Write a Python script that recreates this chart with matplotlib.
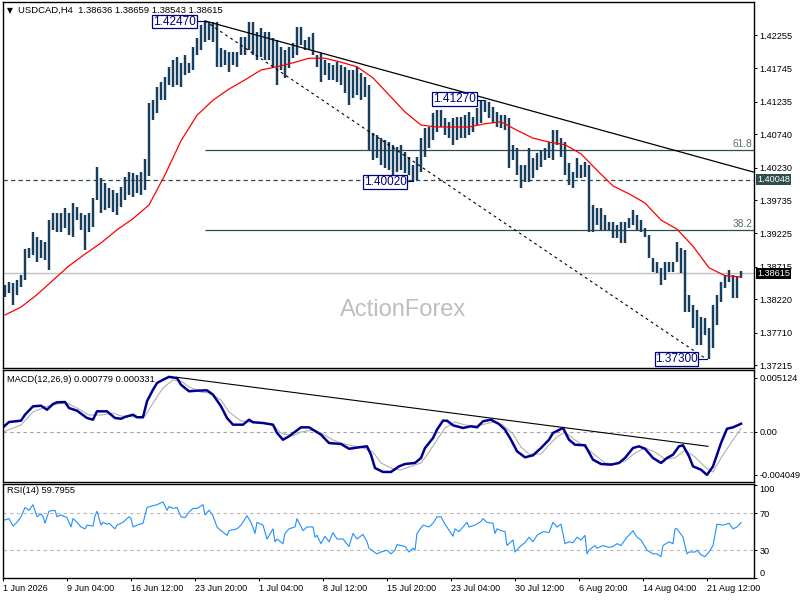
import matplotlib
matplotlib.use('Agg')
import matplotlib.pyplot as plt
import numpy as np

plt.rcParams['font.family'] = ['Liberation Sans', 'DejaVu Sans']

# USDCAD H4, high / low of every second bar
high = [
    1.3844, 1.3848, 1.3847, 1.3851, 1.3859, 1.3899, 1.3900, 1.3925, 1.3917, 1.3913,
    1.3909, 1.3943, 1.3954, 1.3954, 1.3954, 1.3961, 1.3954, 1.3969, 1.3963, 1.3954,
    1.3951, 1.3954, 1.3977, 1.4024, 1.4007, 1.4000, 1.3992, 1.3989, 1.3984, 1.3993,
    1.4009, 1.4016, 1.4015, 1.4012, 1.4016, 1.4036, 1.4122, 1.4126, 1.4146, 1.4154,
    1.4161, 1.4177, 1.4187, 1.4192, 1.4183, 1.4195, 1.4183, 1.4207, 1.4221, 1.4241,
    1.4247, 1.4245, 1.4246, 1.4246, 1.4206, 1.4203, 1.4200, 1.4200, 1.4200, 1.4222,
    1.4222, 1.4246, 1.4245, 1.4230, 1.4236, 1.4230, 1.4230, 1.4221, 1.4218, 1.4207,
    1.4203, 1.4207, 1.4213, 1.4238, 1.4238, 1.4218, 1.4222, 1.4229, 1.4195, 1.4198,
    1.4187, 1.4183, 1.4180, 1.4184, 1.4180, 1.4177, 1.4172, 1.4172, 1.4177, 1.4168,
    1.4161, 1.4149, 1.4076, 1.4073, 1.4068, 1.4065, 1.4062, 1.4058, 1.4055, 1.4058,
    1.4047, 1.4039, 1.4027, 1.4039, 1.4068, 1.4084, 1.4085, 1.4106, 1.4111, 1.4111,
    1.4099, 1.4093, 1.4099, 1.4100, 1.4100, 1.4103, 1.4108, 1.4100, 1.4114, 1.4126,
    1.4127, 1.4123, 1.4116, 1.4108, 1.4103, 1.4103, 1.4099, 1.4058, 1.4053, 1.4027,
    1.4027, 1.4053, 1.4038, 1.4045, 1.4050, 1.4053, 1.4062, 1.4080, 1.4080, 1.4068,
    1.4062, 1.4030, 1.4016, 1.4038, 1.4027, 1.4032, 1.4027, 1.3966, 1.3961, 1.3961,
    1.3951, 1.3940, 1.3940, 1.3935, 1.3940, 1.3940, 1.3946, 1.3958, 1.3951, 1.3943,
    1.3931, 1.3920, 1.3885, 1.3879, 1.3870, 1.3879, 1.3879, 1.3879, 1.3909, 1.3900,
    1.3897, 1.3829, 1.3813, 1.3806, 1.3795, 1.3793, 1.3778, 1.3813, 1.3829, 1.3848,
    1.3859, 1.3867, 1.3859, 1.3856, 1.38659]
low = [
    1.3826, 1.3832, 1.3813, 1.3829, 1.3841, 1.3851, 1.3885, 1.3890, 1.3879, 1.3885,
    1.3882, 1.3867, 1.3928, 1.3925, 1.3925, 1.3931, 1.3920, 1.3917, 1.3943, 1.3928,
    1.3897, 1.3925, 1.3932, 1.3974, 1.3954, 1.3958, 1.3961, 1.3955, 1.3951, 1.3963,
    1.3974, 1.3981, 1.3978, 1.3984, 1.3981, 1.3989, 1.4010, 1.4096, 1.4106, 1.4126,
    1.4126, 1.4149, 1.4146, 1.4149, 1.4146, 1.4164, 1.4168, 1.4172, 1.4195, 1.4203,
    1.4215, 1.4218, 1.4215, 1.4177, 1.4177, 1.4180, 1.4169, 1.4180, 1.4177, 1.4195,
    1.4195, 1.4203, 1.4195, 1.4187, 1.4192, 1.4187, 1.4187, 1.4175, 1.4149, 1.4172,
    1.4160, 1.4175, 1.4190, 1.4195, 1.4210, 1.4203, 1.4203, 1.4195, 1.4177, 1.4154,
    1.4164, 1.4157, 1.4157, 1.4154, 1.4149, 1.4137, 1.4119, 1.4129, 1.4134, 1.4126,
    1.4131, 1.4050, 1.4035, 1.4038, 1.4027, 1.4022, 1.4019, 1.4012, 1.4016, 1.4019,
    1.4015, 1.4012, 1.4002, 1.4004, 1.4016, 1.4039, 1.4053, 1.4065, 1.4077, 1.4085,
    1.4073, 1.4068, 1.4058, 1.4065, 1.4068, 1.4068, 1.4073, 1.4077, 1.4088, 1.4091,
    1.4108, 1.4099, 1.4091, 1.4085, 1.4084, 1.4080, 1.4022, 1.4035, 1.4012, 1.3992,
    1.4001, 1.4001, 1.4007, 1.4019, 1.4024, 1.4035, 1.4038, 1.4035, 1.4058, 1.4039,
    1.4012, 1.3996, 1.3992, 1.4007, 1.4007, 1.4009, 1.3925, 1.3925, 1.3935, 1.3928,
    1.3928, 1.3928, 1.3916, 1.3916, 1.3908, 1.3908, 1.3931, 1.3935, 1.3928, 1.3925,
    1.3917, 1.3885, 1.3864, 1.3862, 1.3844, 1.3851, 1.3864, 1.3864, 1.3879, 1.3862,
    1.3803, 1.3803, 1.3778, 1.3752, 1.3752, 1.3767, 1.3730, 1.3748, 1.3783, 1.3818,
    1.3839, 1.3848, 1.3824, 1.3824, 1.38543]

# red moving average, one value every 8 bars
ma_val = [1.3798, 1.3810, 1.3829, 1.3851, 1.3873, 1.3891, 1.3908, 1.3928, 1.3945, 1.3966,
          1.4012, 1.4064, 1.4103, 1.4126, 1.4143, 1.4157, 1.4172, 1.4177, 1.4183, 1.4190,
          1.4190, 1.4184, 1.4177, 1.4160, 1.4134, 1.4108, 1.4088, 1.4085, 1.4085, 1.4085,
          1.4090, 1.4093, 1.4080, 1.4068, 1.4062, 1.4058, 1.4044, 1.4019, 1.3995, 1.3983,
          1.3969, 1.3943, 1.3929, 1.3903, 1.3870, 1.3858, 1.3856]

macd_bar = [-1, 2, 8, 10, 14, 18, 21, 24, 26, 30, 32, 36, 41, 44, 46, 51, 55, 58, 60, 64,
            66, 69, 71, 74, 76, 79, 82, 86, 88, 92, 96, 101, 104, 108, 111, 114, 119, 122, 124, 129,
            134, 136, 139, 142, 148, 152, 158, 162, 168, 172, 178, 181, 183, 185, 189, 193, 197, 200, 205, 208,
            210, 214, 216, 219, 221, 224, 229, 233, 236, 239, 243, 247, 250, 253, 256, 260, 264, 268, 272, 274,
            279, 282, 285, 290, 294, 298, 303, 307, 310, 314, 317, 320, 324, 328, 331, 334, 337, 339, 342, 344,
            348, 351, 354, 358, 361, 364, 367, 368]
macd_val = [0.00044, 0.00094, 0.00107, 0.00163, 0.00242, 0.00248, 0.00210, 0.00264, 0.00280, 0.00283,
            0.00226, 0.00201, 0.00132, 0.00116, 0.00195, 0.00195, 0.00132, 0.00125, 0.00142, 0.00163,
            0.00139, 0.00139, 0.00290, 0.00399, 0.00462, 0.00493, 0.00520, 0.00509, 0.00446, 0.00384,
            0.00390, 0.00393, 0.00352, 0.00242, 0.00132, 0.00069, 0.00069, 0.00116, 0.00092, 0.00085,
            0.00069, -0.00009, -0.00073, -0.00041, 0.00044, 0.00044, -0.00025, -0.00104, -0.00113, -0.00158,
            -0.00142, -0.00135, -0.00214, -0.00340, -0.00377, -0.00377, -0.00324, -0.00302, -0.00292, -0.00245,
            -0.00151, -0.00057, 0.00022, 0.00107, 0.00107, 0.00063, 0.00038, 0.00054, 0.00044, 0.00101,
            0.00116, 0.00075, 0.00022, -0.00073, -0.00182, -0.00239, -0.00220, -0.00151, -0.00073, -0.00009,
            0.00038, -0.00073, -0.00120, -0.00125, -0.00261, -0.00302, -0.00308, -0.00292, -0.00245, -0.00151,
            -0.00135, -0.00158, -0.00245, -0.00292, -0.00245, -0.00214, -0.00135, -0.00125, -0.00229, -0.00324,
            -0.00356, -0.00405, -0.00324, -0.00104, 0.00031, 0.00044, 0.00069, 0.00078]

sig_bar = [-1, 8, 14, 20, 26, 31, 36, 42, 48, 54, 58, 65, 70, 75, 79, 84, 88, 92, 98, 102,
           108, 112, 118, 122, 128, 134, 138, 144, 148, 154, 158, 164, 168, 174, 178, 184, 188, 194, 198, 202,
           208, 212, 216, 220, 225, 230, 235, 240, 244, 249, 254, 258, 262, 268, 272, 276, 280, 285, 290, 295,
           300, 305, 310, 315, 320, 325, 330, 335, 340, 345, 350, 354, 358, 364, 368]
sig_val = [0.0, 0.00066, 0.00189, 0.00236, 0.00264, 0.00274, 0.00226, 0.00160, 0.00160, 0.00179,
           0.00151, 0.00142, 0.00151, 0.00302, 0.00415, 0.00491, 0.00481, 0.00425, 0.00377, 0.00368,
           0.00302, 0.00189, 0.00104, 0.00094, 0.00085, 0.00066, -0.00009, -0.00038, 0.0, 0.00019,
           -0.00009, -0.00075, -0.00104, -0.00132, -0.00142, -0.00189, -0.00292, -0.00349, -0.00358, -0.00330,
           -0.00292, -0.00189, -0.00075, 0.00038, 0.00094, 0.00066, 0.00057, 0.00075, 0.00094, 0.00066,
           -0.00019, -0.00142, -0.00208, -0.00208, -0.00123, -0.00047, 0.0, -0.00075, -0.00142, -0.00217,
           -0.00292, -0.00302, -0.00274, -0.00198, -0.00151, -0.00189, -0.00255, -0.00245, -0.00170, -0.00236,
           -0.00330, -0.00377, -0.00245, -0.00075, 0.00033]

rsi_bar = [-1, 2, 4, 6, 8, 10, 12, 14, 16, 18, 19, 20, 22, 25, 26, 28, 31, 33, 34, 36,
           38, 40, 41, 44, 45, 46, 48, 49, 51, 52, 55, 56, 59, 62, 63, 64, 66, 69, 71, 74,
           76, 79, 81, 82, 84, 86, 88, 90, 92, 94, 96, 99, 100, 102, 104, 106, 108, 111, 112, 116,
           118, 121, 123, 125, 126, 129, 131, 134, 135, 136, 139, 140, 142, 145, 146, 149, 151, 154, 155, 156,
           158, 160, 162, 164, 166, 169, 172, 174, 176, 179, 181, 182, 186, 188, 191, 193, 195, 196, 198, 200,
           202, 204, 205, 206, 209, 212, 214, 216, 218, 220, 224, 225, 227, 229, 231, 232, 235, 238, 239, 241,
           244, 245, 246, 248, 250, 251, 254, 255, 258, 260, 262, 264, 266, 269, 272, 274, 276, 278, 280, 282,
           284, 286, 288, 290, 291, 292, 295, 296, 299, 302, 304, 306, 308, 311, 312, 314, 316, 318, 321, 324,
           326, 328, 329, 332, 334, 335, 336, 339, 341, 342, 345, 346, 348, 350, 352, 354, 356, 359, 362, 364,
           366, 368]
rsi_val = [62, 64, 56, 60, 66, 76, 73, 79, 66, 69, 66, 59, 72, 73, 66, 68, 65, 55, 64, 60,
           55, 53, 57, 56, 67, 72, 57, 60, 58, 59, 53, 57, 60, 66, 64, 55, 57, 59, 76, 78,
           79, 82, 73, 77, 75, 76, 66, 65, 71, 75, 75, 79, 68, 73, 67, 55, 51, 46, 51, 53,
           57, 67, 60, 48, 60, 57, 42, 53, 39, 42, 37, 48, 53, 55, 64, 51, 55, 55, 44, 46,
           37, 45, 39, 49, 42, 42, 34, 48, 42, 47, 39, 32, 26, 28, 30, 26, 30, 36, 35, 34,
           28, 32, 30, 48, 57, 55, 59, 66, 66, 58, 45, 53, 50, 55, 60, 55, 57, 61, 64, 60,
           59, 48, 53, 51, 50, 35, 41, 28, 35, 38, 44, 39, 46, 50, 49, 60, 55, 58, 37, 39,
           38, 44, 41, 46, 26, 30, 35, 32, 35, 33, 34, 37, 35, 44, 46, 51, 44, 41, 30, 26,
           26, 23, 35, 39, 37, 53, 53, 44, 26, 28, 28, 30, 25, 23, 28, 35, 58, 57, 59, 53,
           55, 59.8]

fib_val = [1.40495, 1.39275]
fib_text = ['61.8', '38.2']
level_dash = 1.40048
last_close = 1.38615
price_ticks = [1.42255, 1.41745, 1.41235, 1.40740, 1.40230, 1.39735,
               1.39225, 1.38715, 1.38220, 1.37710, 1.37215]
tick_bar = [-1, 31, 63, 95, 127, 159, 191, 223, 255, 287, 319, 351]
tick_text = ['1 Jun 2026', '9 Jun 04:00', '16 Jun 12:00', '23 Jun 20:00', '1 Jul 04:00',
             '8 Jul 12:00', '15 Jul 20:00', '23 Jul 04:00', '30 Jul 12:00', '6 Aug 20:00',
             '14 Aug 04:00', '21 Aug 12:00']

bars = np.arange(0, 2 * len(high), 2)
ma_bar = np.arange(0, 8 * len(ma_val), 8)
navy = '#000080'
slate = '#2F4F4F'

fig = plt.figure(figsize=(8, 6), dpi=100)
W = 751 / 800
ax = fig.add_axes([3 / 800, 232 / 600, W, 366 / 600])
axm = fig.add_axes([3 / 800, 118 / 600, W, 112 / 600])
axr = fig.add_axes([3 / 800, 22 / 600, W, 94 / 600])

for a in (ax, axm, axr):
    a.set_xlim(-1, 374.5)
    for s in a.spines.values():
        s.set_linewidth(1.0)
        s.set_color('black')
    a.yaxis.tick_right()
    a.tick_params(axis='y', direction='out', length=2.2, width=0.7, pad=2, labelsize=6.6)

# main price panel
ax.vlines(bars, low, high, color='#173F5D', lw=1.75, zorder=3)
ax.plot(ma_bar, ma_val, color='red', lw=0.9, zorder=4)
ax.hlines(fib_val, 100, 374.5, colors=slate, lw=0.9, zorder=2)
for v, t in zip(fib_val, fib_text):
    ax.text(373.5, v + 0.0002, t, ha='right', va='bottom', fontsize=7.3, color='#5A6A6A')
ax.axhline(level_dash, color=slate, lw=0.9, ls=(0, (3.5, 2.5)), zorder=2)
ax.axhline(last_close, color='#C0C0C0', lw=1.0, zorder=2)
ax.plot([100, 374.5], [1.4247, 1.4016], color='black', lw=0.9, zorder=4)
ax.plot([100, 351], [1.4247, 1.3730], color='black', lw=0.8, ls=(0, (2.5, 3)), zorder=4)


def price_tag(xc, yc, text, x0, x1, level):
    ax.plot([x0, x1], [level, level], color=navy, lw=0.8, zorder=5)
    ax.text(xc, yc, text, ha='center', va='center', fontsize=8.5, color=navy, zorder=6,
            bbox=dict(boxstyle='square,pad=0.05', fc='white', ec=navy, lw=0.9))


price_tag(84.75, 1.42455, '1.42470', 95.5, 100, 1.4247)
price_tag(224.75, 1.41278, '1.41270', 235.5, 239, 1.4127)
price_tag(190, 1.40010, '1.40020', 201.5, 204, 1.4002)
price_tag(335.75, 1.37308, '1.37300', 346, 351, 1.3730)

ax.text(0.5326, 0.158, 'ActionForex', transform=ax.transAxes, fontsize=17,
        color='#BEBEBE', ha='center', va='center')
ax.text(0.0093, 0.978, '▼', transform=ax.transAxes, fontsize=5.5, ha='center',
        va='center', family='DejaVu Sans')
ax.text(0.02, 0.978, 'USDCAD,H4  1.38636 1.38659 1.38543 1.38615', transform=ax.transAxes,
        fontsize=6.8, ha='left', va='center')

ax.set_ylim(1.371702, 1.427590)
ax.set_yticks(price_ticks)
ax.set_yticklabels(['%.5f' % p for p in price_ticks])
ax.set_xticks([])
ytr = ax.get_yaxis_transform()
ax.text(1.004, level_dash, '%.5f' % level_dash, transform=ytr, ha='left', va='center',
        fontsize=6.6, color='white', zorder=6,
        bbox=dict(boxstyle='square,pad=0.12', fc=slate, ec='none'))
ax.text(1.004, last_close, '%.5f' % last_close, transform=ytr, ha='left', va='center',
        fontsize=6.6, color='white', zorder=6,
        bbox=dict(boxstyle='square,pad=0.12', fc='black', ec='none'))

# MACD panel
axm.axhline(0, color='#A0A0A0', lw=0.8, ls=(0, (3, 3)))
axm.plot(sig_bar, sig_val, color='#B0B0B0', lw=0.8)
axm.plot(macd_bar, macd_val, color='#000090', lw=1.8)
axm.plot([86, 351.5], [0.00516, -0.00135], color='black', lw=0.8)
axm.set_ylim(-0.004717, 0.005849)
axm.set_yticks([0.005124, 0.0, -0.004049])
axm.set_yticklabels(['0.005124', '0.00', '-0.004049'])
axm.set_xticks([])
axm.text(0.0053, 0.911, 'MACD(12,26,9) 0.000779 0.000331', transform=axm.transAxes,
         fontsize=6.7, ha='left', va='center')

# RSI panel
axr.axhline(70, color='#B8B8B8', lw=0.8, ls=(0, (3, 3)))
axr.axhline(30, color='#B8B8B8', lw=0.8, ls=(0, (3, 3)))
axr.plot(rsi_bar, rsi_val, color='#1E90FF', lw=0.8)
axr.set_ylim(0.4, 101.3)
axr.set_yticks([100, 70, 30, 0])
axr.set_yticklabels(['100', '70', '30', '0'])
lbls = axr.get_yticklabels()
lbls[0].set_va('top')
lbls[3].set_va('bottom')
axr.text(0.0053, 0.926, 'RSI(14) 59.7955', transform=axr.transAxes,
         fontsize=6.7, ha='left', va='center')
axr.set_xticks(tick_bar)
axr.set_xticklabels(tick_text, fontsize=6.5, ha='left')
axr.tick_params(axis='x', direction='out', length=2.2, width=0.7, pad=2)

fig.savefig('out.png', dpi=100)
